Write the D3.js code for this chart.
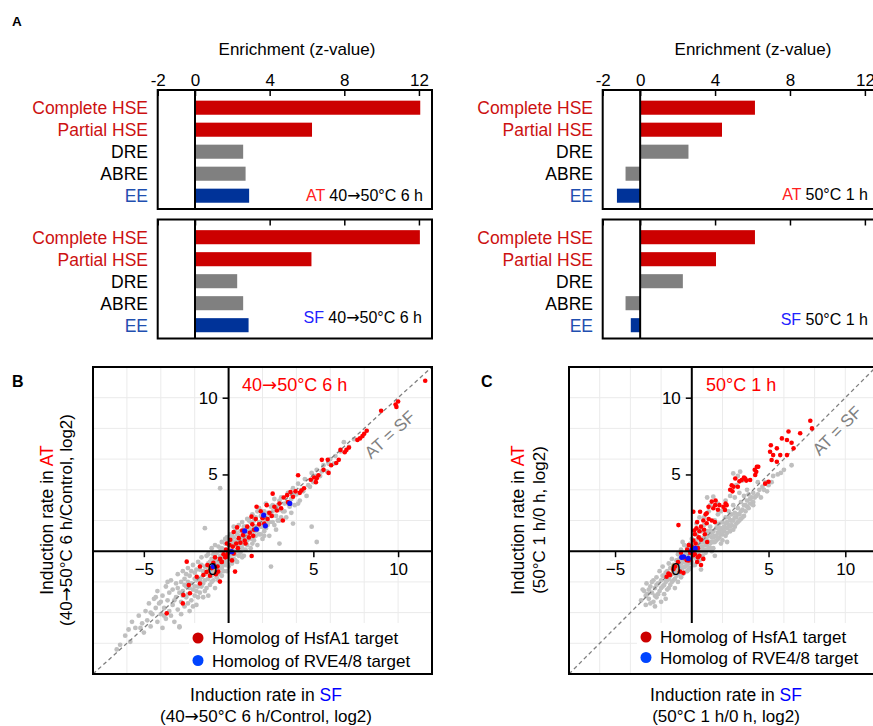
<!DOCTYPE html>
<html>
<head>
<meta charset="utf-8">
<script src="https://cdn.jsdelivr.net/npm/d3@7"></script>
<style>
  body { margin: 0; background: #fff; }
  svg { font-family: "Liberation Sans", Arial, sans-serif; }
</style>
</head>
<body>
<svg id="fig" width="873" height="726"></svg>
<script>
// ---- panel A data (enrichment z-values) ----
const motifs = ['Complete HSE', 'Partial HSE', 'DRE', 'ABRE', 'EE']
const barColors = ['#cc0000', '#cc0000', '#808080', '#808080', '#003399']
const labelColors = ['#cc1111', '#cc1111', '#000000', '#000000', '#1f4fb0']
const zAT6h = [12.07, 6.27, 2.58, 2.71, 2.9]
const zSF6h = [12.05, 6.24, 2.26, 2.58, 2.87]
const zAT1h = [6.13, 4.37, 2.58, -0.78, -1.24]
const zSF1h = [6.13, 4.05, 2.28, -0.78, -0.5]
const zTicks = [-2, 0, 4, 8, 12]
const zDomain = [-2, 12.7]

// ---- panel B/C data: [SF rate, AT rate] ----
const rateDomain = [-8, 12]
const rateTicks = [-5, 5, 10]
const rateYTicks = [5, 10]
const gridValues = [-6, -4, -2, 2, 4, 6, 8, 10]

const grayB = [
  [-6.4,-6.1],[-6.1,-5.5],[-5.8,-5.9],[-5.7,-4.6],[-5.5,-5.0],[-5.3,-4.2],[-5.1,-4.7],[-5.0,-5.3],[-4.9,-3.9],[-4.8,-4.5],
  [-4.7,-3.4],[-4.6,-4.9],[-4.5,-4.1],[-4.4,-3.1],[-4.3,-3.7],[-4.2,-4.6],[-4.2,-2.6],[-4.1,-3.4],[-4.0,-4.1],[-3.9,-2.9],
  [-3.9,-5.0],[-3.8,-3.7],[-3.7,-2.3],[-3.7,-4.4],[-3.6,-3.2],[-3.5,-2.7],[-3.5,-3.9],[-3.4,-1.9],[-3.3,-3.5],[-3.3,-2.5],
  [-3.2,-4.6],[-3.1,-3.0],[-3.1,-2.1],[-3.0,-3.8],[-3.0,-1.5],[-2.9,-2.7],[-2.9,-4.9],[-2.8,-3.3],[-2.8,-2.0],[-2.7,-1.3],
  [-2.7,-2.6],[-2.6,-3.6],[-2.6,-1.8],[-2.5,-2.3],[-2.5,-3.0],[-2.4,-1.1],[-2.4,-2.8],[-2.3,-1.6],[-2.3,-3.9],[-2.2,-2.1],
  [-2.2,-3.2],[-2.1,-0.9],[-2.1,-2.5],[-2.0,-1.4],[-2.0,-2.9],[-1.9,-1.9],[-1.9,-3.5],[-1.8,-0.7],[-1.8,-2.3],[-1.7,-1.2],
  [-1.7,-2.7],[-1.6,-1.7],[-1.6,-0.4],[-1.5,-2.1],[-1.5,-3.0],[-1.4,1.5],[-1.4,-1.0],[-1.4,-1.5],[-1.3,-2.4],[-1.3,-0.3],
  [-1.2,-1.8],[-1.2,-0.8],[-1.1,-1.3],[-1.1,-2.2],[-1.0,-0.5],[-1.0,-1.6],[-1.0,0.2],[-0.9,-1.0],[-0.9,-0.2],[-0.9,-1.9],
  [-0.8,-0.6],[-0.8,-1.4],[-0.8,0.4],[-0.7,-0.9],[-0.7,-0.1],[-0.7,-1.7],[-0.6,-0.5],[-0.6,-1.2],[-0.6,0.3],[-0.5,-0.8],
  [-0.5,0.0],[-0.5,-1.5],[-0.5,4.1],[-0.4,-0.4],[-0.4,-1.1],[-0.4,0.6],[-0.3,-0.7],[-0.3,0.1],[-0.3,-1.3],[-0.2,-0.3],
  [-0.2,0.5],[-0.2,-0.9],[-0.1,0.0],[-0.1,-0.6],[-0.1,0.9],[0.0,-0.2],[0.0,0.4],[0.0,-1.0],[0.1,0.2],[0.1,-0.5],
  [0.1,1.1],[0.2,0.6],[0.2,-0.2],[0.2,-0.8],[0.3,0.0],[0.3,0.9],[0.3,-0.5],[0.4,0.4],[0.4,1.3],[0.4,-0.2],
  [0.5,0.7],[0.5,0.1],[0.5,-0.7],[0.6,1.0],[0.6,0.3],[0.6,1.7],[0.7,0.6],[0.7,-0.1],[0.7,1.3],[0.8,0.9],
  [0.8,0.2],[0.8,1.9],[0.9,0.5],[0.9,1.2],[0.9,-0.3],[1.0,0.8],[1.0,1.6],[1.0,0.1],[1.1,1.1],[1.1,2.1],
  [1.1,0.4],[1.2,0.8],[1.2,1.5],[1.3,1.9],[1.3,0.2],[1.4,1.2],[1.4,2.4],[1.5,0.7],[1.5,1.6],[1.6,1.0],
  [1.6,2.2],[1.7,1.4],[1.7,0.4],[1.8,1.9],[1.8,2.8],[1.9,1.1],[1.9,2.3],[2.0,1.6],[2.0,0.8],[2.1,2.6],
  [2.1,1.3],[2.2,2.0],[2.2,3.1],[2.3,1.7],[2.4,2.4],[2.4,1.0],[2.5,2.9],[2.5,-1.0],[2.6,1.9],[2.6,2.6],
  [2.7,3.4],[2.8,2.3],[2.8,1.4],[2.9,3.0],[3.0,2.0],[3.0,2.7],[3.1,3.5],[3.2,2.6],[3.3,3.1],[3.4,2.2],
  [3.5,3.8],[3.6,2.9],[3.7,3.4],[3.8,1.8],[3.8,4.1],[3.9,3.0],[4.0,3.7],[4.1,4.4],[4.2,3.3],[4.3,4.0],
  [4.5,4.7],[4.6,3.6],[4.7,4.3],[4.9,1.6],[4.9,5.1],[5.0,4.5],[5.2,0.6],[5.2,5.3],[5.4,4.9],[5.6,5.6],
  [5.8,5.2],[6.0,6.0],[6.3,6.2],[6.6,6.5],[6.8,7.1],[7.1,6.8],[7.4,7.3],[3.0,0.5],[-2.9,-4.96],[-1.6,-0.9],
  [-1.2,-0.2],[-0.6,-0.9],[-0.3,-0.2],[0.0,0.1],[0.2,0.3],[0.5,0.4],[0.8,0.5],[1.2,1.2],[1.6,1.6],[-0.9,-1.3],
  [-0.4,0.2],[0.3,0.6],[0.6,-0.3],[1.0,1.3],[1.4,0.8],[-2.0,-1.8],[-1.4,-1.9],[-0.1,-1.3],[0.9,0.9],[1.9,1.8],
  [-3.6,-2.0],[-3.4,-4.2],[-3.2,-3.2],[-3.0,-2.4],[-2.8,-4.1],[-2.7,-2.9],[-2.6,-2.2],[-2.5,-1.5],[-2.4,-3.4],[-2.3,-2.4],
  [-2.2,-1.3],[-2.1,-3.6],[-2.0,-2.3],[-1.9,-1.2],[-1.8,-3.0],[-1.7,-1.9],[-1.6,-2.3],[-1.5,-1.3],[-1.4,-2.6],[-1.3,-1.0],
  [-1.2,-2.9],[-1.1,-0.7],[-1.0,-2.0],[-0.9,-1.5],[-0.8,-0.2],[-0.7,-1.2],[-0.6,-1.9],[-0.5,-0.3],[-0.4,-1.6],[-0.3,-0.9],
  [-0.2,0.8],[-0.1,-0.8],[0.0,0.7],[0.1,-0.2],[0.2,1.0],[0.3,0.4],[0.4,-0.6],[0.5,1.1],[0.6,0.0],[0.7,0.9],
  [0.8,-0.4],[0.9,1.6],[1.0,1.0],[1.1,0.7],[1.2,2.0],[1.3,1.4],[1.4,0.5],[1.5,2.0],[1.6,1.3],[1.7,2.6],
  [1.8,1.1],[1.9,1.6],[2.0,2.4],[2.1,1.0],[2.2,1.5],[2.3,2.5],[2.4,1.9],[2.5,2.3],[2.6,3.0],[2.7,1.7],
  [2.8,2.8],[2.9,2.0],[3.0,3.3],[3.1,2.2],[3.3,2.6],[3.5,3.1],[3.7,2.5],[3.9,3.8],[4.1,3.1],[4.4,3.9],
  [4.8,4.2],[5.1,4.9],[5.5,5.2],[5.9,5.7],[6.2,5.7],[-4.6,-4.0],[-4.3,-3.0],[-4.0,-3.3],[-3.8,-4.2],[-5.2,-5.0],
  [-5.9,-5.1],[-6.6,-6.4],[-1.2,-1.4],[-0.6,-0.7],[0.0,-0.4],[0.5,0.5],[1.1,1.4],[-1.9,-2.6],[-2.4,-2.0],[0.3,1.6],
  [-0.8,-2.4]
]
const redB = [
  [11.6,11.1],[10.0,9.75],[9.85,9.55],[9.9,9.4],[9.0,9.15],[8.15,7.85],[8.0,7.65],[7.9,7.5],[7.75,7.35],[7.6,7.25],
  [7.1,6.75],[6.95,6.6],[6.6,6.6],[6.85,6.45],[6.5,5.95],[5.5,5.95],[5.85,5.95],[6.05,5.6],[6.35,5.75],[5.6,5.3],
  [5.9,5.1],[5.3,4.95],[5.05,4.8],[4.85,4.65],[5.15,4.5],[5.2,4.75],[4.45,4.1],[4.1,4.95],[4.3,3.95],[3.65,3.85],
  [3.95,3.9],[4.2,3.8],[3.25,3.5],[3.45,3.65],[3.8,3.55],[2.6,3.75],[2.85,2.65],[3.2,2.0],[2.25,3.0],[1.65,2.9],
  [1.9,2.6],[1.35,2.25],[1.6,2.1],[2.0,2.15],[2.4,2.5],[2.7,2.9],[3.0,3.1],[2.3,2.1],[1.8,1.75],[1.5,1.4],
  [1.25,1.2],[1.1,1.6],[0.85,1.05],[0.95,0.7],[0.6,0.85],[0.7,0.55],[0.45,0.5],[0.25,0.3],[0.05,0.4],[-0.15,0.1],
  [0.3,-0.15],[0.15,0.0],[0.55,0.2],[1.0,0.5],[1.2,0.9],[1.45,1.0],[2.1,1.8],[2.55,2.3],[3.1,2.8],[3.5,3.2],
  [0.5,1.55],[0.3,1.25],[0.1,0.75],[-0.1,0.5],[0.8,1.35],[1.4,1.75],[-0.3,-0.2],[-0.5,-0.5],[-0.8,-0.4],[-1.0,-1.1],
  [-0.9,-0.75],[-1.25,-0.9],[-0.65,-1.0],[-0.4,-0.7],[-0.2,-0.4],[0.38,-1.33],[1.36,-0.31],[-0.11,-0.36],[-0.41,-0.68],[-2.47,-0.68],
  [-1.69,-1.0],[-1.49,-1.55],[-1.88,-1.66],[-0.61,-1.33],[-0.51,-1.98],[-1.69,-2.1],[-2.28,-2.74],[-2.67,-2.85],[-3.65,-4.05],[-1.3,-1.35],
  [-1.1,-1.6],[-0.75,-1.5],[-2.7,-3.4],[-2.35,-2.2],[-0.05,-0.15],[0.2,-0.6]
]
const blueB = [[0.95,1.32],[2.07,2.35],[1.64,1.43],[2.17,1.65],[3.61,3.11],[0.18,-0.03],[-0.9,-1.0]]

const grayC = [
  [-3.3,-3.2],[-3.1,-2.6],[-3.0,-3.5],[-2.95,-2.1],[-2.9,-2.8],[-2.8,-3.1],[-2.7,-2.3],[-2.6,-2.7],[-2.5,-1.9],[-2.5,-3.3],
  [-2.4,-2.4],[-2.3,-1.7],[-2.3,-3.0],[-2.2,-2.1],[-2.1,-2.6],[-2.1,-1.3],[-2.0,-3.3],[-2.0,-1.9],[-1.9,-2.3],[-1.9,-1.0],
  [-1.8,-2.8],[-1.8,-1.6],[-1.7,-2.0],[-1.7,-3.1],[-1.6,-1.3],[-1.6,-2.5],[-1.5,-0.8],[-1.5,-1.8],[-1.4,-1.1],[-1.4,-2.2],
  [-1.3,-1.5],[-1.3,-0.5],[-1.2,-1.9],[-1.2,-0.9],[-1.1,-1.3],[-1.1,-2.4],[-1.0,-0.6],[-1.0,-1.6],[-0.9,-1.0],[-0.9,-0.2],
  [-0.9,-2.0],[-0.8,-1.3],[-0.8,-0.5],[-0.7,-0.8],[-0.7,-1.7],[-0.7,0.1],[-0.6,-1.1],[-0.6,-0.3],[-0.5,-0.7],[-0.5,-1.4],
  [-0.5,0.4],[-0.4,-0.2],[-0.4,-1.0],[-0.3,-0.5],[-0.3,0.2],[-0.3,-1.3],[-0.2,-0.8],[-0.2,0.0],[-0.1,-0.4],[-0.1,0.5],
  [-0.1,-1.1],[0.0,-0.1],[0.0,0.8],[0.0,-0.7],[0.1,0.3],[0.1,-0.4],[0.2,-0.1],[0.2,0.7],[0.2,-0.9],[0.3,0.2],
  [0.3,1.1],[0.3,-0.5],[0.4,0.5],[0.4,-0.2],[0.5,0.0],[0.5,0.9],[0.5,-0.6],[0.6,0.3],[0.6,1.3],[0.7,0.6],
  [0.7,-0.3],[0.8,0.1],[0.8,0.9],[0.8,1.7],[0.9,0.4],[0.9,-0.1],[1.0,0.7],[1.0,1.3],[1.1,0.2],[1.1,1.0],
  [1.2,0.5],[1.2,1.6],[1.3,0.9],[1.3,0.0],[1.4,1.3],[1.4,0.6],[1.5,1.0],[1.5,2.0],[1.6,0.7],[1.6,1.5],
  [1.7,1.2],[1.7,2.4],[1.8,0.9],[1.8,1.8],[1.9,1.4],[1.9,0.5],[2.0,1.9],[2.0,1.1],[2.1,2.8],[2.1,1.6],
  [2.2,1.0],[2.2,2.2],[2.3,1.5],[2.3,1.9],[2.4,2.6],[2.5,1.3],[2.5,2.0],[2.6,2.4],[2.6,1.7],[2.7,3.0],
  [2.7,2.0],[2.8,1.6],[2.8,2.5],[2.9,2.2],[3.0,1.9],[3.0,2.8],[3.1,2.4],[3.2,3.2],[3.2,2.1],[3.3,2.7],
  [3.4,3.0],[3.4,2.3],[3.5,2.6],[3.6,3.3],[3.6,2.9],[3.7,3.7],[3.8,3.1],[3.9,3.5],[4.0,3.2],[4.0,3.8],
  [4.1,3.5],[4.2,3.6],[1.0,3.5],[1.4,3.55],[1.2,3.0],[0.5,2.2],[0.3,1.8],[2.7,5.07],[3.15,5.18],[3.0,4.9],
  [3.3,4.6],[2.9,4.3],[2.5,3.6],[2.2,3.3],[1.7,3.1],[4.4,4.0],[4.6,4.2],[4.8,4.5],[5.0,4.3],[5.3,4.9],
  [5.6,5.0],[6.0,5.3],[6.5,5.6],[4.3,4.5],[4.9,3.9],[0.6,-1.2],[1.5,-0.3],[-2.4,-3.6],[2.3,0.6],[-1.0,-0.9],
  [-0.6,-0.6],[-0.2,-0.3],[0.1,0.0],[0.4,0.2],[0.7,0.3],[1.0,0.4],[1.3,0.6],[1.6,1.0],[-1.3,-1.1],[-0.4,-0.6],
  [0.2,0.4],[0.9,0.8],[1.2,1.3],[1.8,1.3],[2.4,1.7],[-0.8,-0.8],[-0.1,0.2],[0.6,0.6],[1.4,0.9],[2.0,1.5],
  [-3.2,-2.5],[-3.0,-2.9],[-2.8,-2.5],[-2.7,-3.4],[-2.6,-2.0],[-2.4,-2.9],[-2.3,-2.2],[-2.2,-2.8],[-2.0,-2.4],[-1.9,-1.6],
  [-1.8,-2.2],[-1.7,-1.4],[-1.6,-1.9],[-1.5,-2.4],[-1.4,-1.6],[-1.3,-2.0],[-1.2,-1.3],[-1.1,-1.8],[-1.0,-1.1],[-0.9,-1.5],
  [-0.8,-1.0],[-0.7,-0.4],[-0.6,-1.5],[-0.5,-1.0],[-0.4,-0.5],[-0.3,-0.9],[-0.2,-1.2],[-0.1,-0.7],[0.0,0.4],[0.1,-0.9],
  [0.2,0.1],[0.3,-0.2],[0.4,0.8],[0.5,0.3],[0.6,-0.4],[0.7,0.0],[0.8,0.6],[0.9,1.1],[1.0,0.1],[1.1,0.6],
  [1.2,0.2],[1.3,1.2],[1.4,0.2],[1.5,0.6],[1.6,1.8],[1.7,0.8],[1.8,1.5],[1.9,1.1],[2.0,0.7],[2.1,1.3],
  [2.2,1.8],[2.3,1.2],[2.4,2.2],[2.5,1.6],[2.6,2.0],[2.7,1.4],[2.8,2.2],[2.9,1.8],[3.0,2.4],[3.1,2.0],
  [3.2,2.6],[3.3,2.2],[3.5,3.0],[3.7,2.8],[3.8,3.4],[4.0,3.0],[4.3,3.7],[4.5,3.5],[4.7,4.0],[5.2,4.5],
  [5.8,5.1],[3.4,3.6],[3.6,4.0],[3.1,3.8],[2.8,3.5],[0.8,2.2],[1.1,2.6],[0.4,1.4],[-0.6,0.6],[1.9,2.6]
]
const redC = [
  [7.72,8.5],[7.83,8.0],[7.06,7.68],[6.3,7.8],[5.87,7.35],[6.2,7.24],[6.5,7.07],[6.63,6.7],[5.15,6.9],[5.54,6.7],
  [5.1,6.48],[5.3,6.26],[5.76,6.26],[6.2,6.26],[5.2,5.94],[5.54,5.83],[4.24,5.5],[4.2,5.17],[4.13,4.96],[5.0,4.52],
  [4.78,4.4],[4.33,5.5],[4.1,5.3],[3.8,4.64],[3.25,4.64],[3.4,4.8],[3.55,4.6],[2.83,4.74],[3.1,4.55],[3.48,4.74],
  [2.72,4.2],[2.6,4.3],[2.5,4.0],[3.0,4.2],[2.65,3.9],[2.27,3.0],[2.16,2.68],[1.52,3.0],[1.09,2.89],[1.4,2.8],
  [1.7,2.7],[2.06,2.89],[2.2,3.1],[1.3,3.23],[1.55,3.3],[1.8,3.0],[0.97,2.47],[0.54,2.57],[0.9,2.4],[1.1,2.1],
  [1.3,2.0],[1.5,1.9],[0.97,1.82],[0.1,2.57],[-0.87,1.7],[0.75,2.0],[0.6,1.6],[0.35,1.9],[0.5,1.3],[0.3,1.5],
  [0.8,1.4],[0.2,1.1],[0.45,0.9],[0.1,0.7],[0.6,0.75],[0.25,0.5],[0.0,0.3],[0.4,0.2],[0.15,1.35],[0.85,1.1],
  [1.0,0.6],[-0.3,0.1],[-0.1,-0.1],[0.2,-0.2],[0.5,-0.3],[-0.5,-0.4],[-0.7,-0.1],[-0.2,-0.6],[0.35,-0.7],[0.6,-0.9],
  [-0.9,-0.7],[-1.09,-1.0],[-0.77,-1.33],[-1.42,-1.55],[-1.64,-1.66],[-1.52,-1.46],[-1.2,-1.17],[-0.55,-1.41],[-0.33,-0.59],[0.1,-0.26],
  [0.4,-0.4],[0.75,-0.5],[-0.2,0.4],[0.05,0.0]
]
const blueC = [[-0.66,-0.4],[-0.23,-0.47],[0.0,0.07],[0.22,0.18],[-0.54,-0.36]]

const svg = d3.select('#fig')

// text with a wider arrow glyph
function richText(sel, str) {
  str.split('→').forEach((part, i) => {
    if (i > 0) sel.append('tspan').attr('font-family', '"DejaVu Sans", sans-serif').text('→')
    sel.append('tspan').text(part)
  })
  return sel
}

// ---------- panel A ----------
function barPanel(opt) {
  const x = d3.scaleLinear().domain(zDomain).range([opt.left, opt.right])
  const y = d3.scaleBand().domain(motifs).range([opt.top + 6.7, opt.top + 116.7])
    .paddingInner(0.36).paddingOuter(0.18)
  const g = svg.append('g')
  const h = 119

  g.selectAll('.bar')
    .data(opt.values)
    .enter()
    .append('rect')
    .attr('x', d => x(Math.min(0, d)))
    .attr('y', (d, i) => y(motifs[i]))
    .attr('width', d => Math.abs(x(d) - x(0)))
    .attr('height', y.bandwidth())
    .attr('fill', (d, i) => barColors[i])

  // ticks (inside, from the top border)
  const ax = g.append('g')
    .attr('transform', `translate(0,${opt.top})`)
    .call(d3.axisTop(x).tickValues(zTicks).tickSize(-6).tickPadding(4))
  ax.select('.domain').remove()
  ax.selectAll('line').attr('stroke', '#000').attr('stroke-width', 1.5)
  ax.selectAll('text').attr('font-size', 17).attr('fill', '#000')
    .attr('font-family', '"Liberation Sans", Arial, sans-serif')
    .text(d => opt.tickLabels ? d : '')

  g.append('line')
    .attr('x1', x(0)).attr('x2', x(0))
    .attr('y1', opt.top).attr('y2', opt.top + h)
    .attr('stroke', '#000').attr('stroke-width', 2)

  g.append('rect')
    .attr('x', opt.left).attr('y', opt.top)
    .attr('width', opt.right - opt.left).attr('height', h)
    .attr('fill', 'none').attr('stroke', '#000').attr('stroke-width', 2)

  g.selectAll('.lab')
    .data(motifs)
    .enter()
    .append('text')
    .attr('x', opt.labelX)
    .attr('y', d => y(d) + y.bandwidth() / 2)
    .attr('dy', '0.36em')
    .attr('text-anchor', 'end')
    .attr('font-size', 17.5)
    .attr('fill', (d, i) => labelColors[i])
    .text(d => d)

  const note = g.append('text')
    .attr('x', opt.noteX).attr('y', opt.noteY)
    .attr('text-anchor', 'end').attr('font-size', 16)
  note.append('tspan').attr('fill', opt.noteColor).text(opt.sample + ' ')
  richText(note, opt.cond)

  if (opt.title) {
    g.append('text')
      .attr('x', opt.titleX).attr('y', 55)
      .attr('text-anchor', 'middle').attr('font-size', 17)
      .text('Enrichment (z-value)')
  }
}

barPanel({ left: 157.7, right: 432, top: 90, values: zAT6h, labelX: 148, tickLabels: true, title: true, titleX: 297,
  noteX: 423, noteY: 201, sample: 'AT', noteColor: '#ff2020', cond: '40→50°C 6 h' })
barPanel({ left: 157.7, right: 432, top: 219.5, values: zSF6h, labelX: 148, tickLabels: false,
  noteX: 422, noteY: 323, sample: 'SF', noteColor: '#2222ff', cond: '40→50°C 6 h' })
barPanel({ left: 602.7, right: 878, top: 90, values: zAT1h, labelX: 593, tickLabels: true, title: true, titleX: 753,
  noteX: 868, noteY: 200, sample: 'AT', noteColor: '#ff2020', cond: '50°C 1 h' })
barPanel({ left: 602.7, right: 878, top: 219.5, values: zSF1h, labelX: 593, tickLabels: false,
  noteX: 868, noteY: 325, sample: 'SF', noteColor: '#2222ff', cond: '50°C 1 h' })

// ---------- panels B and C ----------
function scatterPanel(opt) {
  const top = 367, bottom = 674
  const x = d3.scaleLinear().domain(rateDomain).range([opt.left, opt.right])
  const y = d3.scaleLinear().domain(rateDomain).range([bottom, top])
  const g = svg.append('g')

  g.append('clipPath').attr('id', opt.id)
    .append('rect').attr('x', opt.left).attr('y', top)
    .attr('width', opt.right - opt.left).attr('height', bottom - top)
  const plot = g.append('g').attr('clip-path', `url(#${opt.id})`)

  plot.selectAll('.gx').data(gridValues).enter().append('line')
    .attr('x1', d => x(d)).attr('x2', d => x(d)).attr('y1', top).attr('y2', bottom)
    .attr('stroke', '#ebebeb').attr('stroke-width', 1)
  plot.selectAll('.gy').data(gridValues).enter().append('line')
    .attr('y1', d => y(d)).attr('y2', d => y(d)).attr('x1', opt.left).attr('x2', opt.right)
    .attr('stroke', '#ebebeb').attr('stroke-width', 1)

  plot.selectAll('.gp').data(opt.gray).enter().append('circle')
    .attr('cx', d => x(d[0])).attr('cy', d => y(d[1])).attr('r', 2.4).attr('fill', '#bfbfbf')

  plot.append('line')
    .attr('x1', x(rateDomain[0])).attr('y1', y(rateDomain[0]))
    .attr('x2', x(rateDomain[1])).attr('y2', y(rateDomain[1]))
    .attr('stroke', '#7f7f7f').attr('stroke-width', 1.3).attr('stroke-dasharray', '4,3')

  plot.selectAll('.rp').data(opt.red).enter().append('circle')
    .attr('cx', d => x(d[0])).attr('cy', d => y(d[1])).attr('r', 2.3).attr('fill', '#ff0000')
  plot.selectAll('.bp').data(opt.blue).enter().append('circle')
    .attr('cx', d => x(d[0])).attr('cy', d => y(d[1])).attr('r', 2.6).attr('fill', '#1010ff')

  // axes through the origin
  g.append('line').attr('x1', opt.left).attr('x2', opt.right).attr('y1', y(0)).attr('y2', y(0))
    .attr('stroke', '#000').attr('stroke-width', 2)
  g.append('line').attr('x1', x(0)).attr('x2', x(0)).attr('y1', top).attr('y2', bottom)
    .attr('stroke', '#000').attr('stroke-width', 2)

  const xa = g.append('g').attr('transform', `translate(0,${y(0)})`)
    .call(d3.axisBottom(x).tickValues(rateTicks).tickSize(6).tickPadding(6))
  const ya = g.append('g').attr('transform', `translate(${x(0)},0)`)
    .call(d3.axisLeft(y).tickValues(rateYTicks).tickSize(6).tickPadding(5))
  for (const a of [xa, ya]) {
    a.select('.domain').remove()
    a.selectAll('line').attr('stroke', '#000').attr('stroke-width', 1.5)
    a.selectAll('text').attr('font-size', 17).attr('fill', '#000')
      .attr('font-family', '"Liberation Sans", Arial, sans-serif')
  }
  g.append('text').attr('x', x(0) - 16).attr('y', y(0) + 24)
    .attr('text-anchor', 'middle').attr('font-size', 17).text('0')

  // AT = SF label along the diagonal
  const ang = -Math.atan2(y(0) - y(1), x(1) - x(0)) * 180 / Math.PI
  g.append('text')
    .attr('transform', `translate(${x(opt.eqPos[0])},${y(opt.eqPos[1])}) rotate(${ang})`)
    .attr('text-anchor', 'middle').attr('dy', '0.35em')
    .attr('font-size', 17).attr('fill', '#808080')
    .text('AT = SF')

  richText(g.append('text').attr('x', opt.titleX).attr('y', 391)
    .attr('font-size', 18).attr('fill', '#ff0000'), opt.title)

  // legend
  g.append('rect').attr('x', opt.legendX - 9).attr('y', 623)
    .attr('width', opt.right - opt.legendX + 8).attr('height', bottom - 624)
    .attr('fill', '#fff')
  const leg = [['Homolog of HsfA1 target', '#cc0000'], ['Homolog of RVE4/8 target', '#0044ff']]
  g.selectAll('.lg').data(leg).enter().append('circle')
    .attr('cx', opt.legendX).attr('cy', (d, i) => opt.legendY + i * opt.legendStep)
    .attr('r', 5.5).attr('fill', d => d[1])
  g.selectAll('.lt').data(leg).enter().append('text')
    .attr('x', opt.legendX + 14).attr('y', (d, i) => opt.legendY + i * opt.legendStep)
    .attr('dy', '0.36em').attr('font-size', 17).text(d => d[0])

  g.append('rect').attr('x', opt.left).attr('y', top)
    .attr('width', opt.right - opt.left).attr('height', bottom - top)
    .attr('fill', 'none').attr('stroke', '#000').attr('stroke-width', 2)

  // axis titles (rotated: local +y points right on screen)
  const yl = g.append('g').attr('transform', `translate(${opt.yLabX},520) rotate(-90)`)
  const t1 = yl.append('text').attr('text-anchor', 'middle').attr('dy', '0.35em').attr('font-size', 17.5)
  t1.append('tspan').text('Induction rate in ')
  t1.append('tspan').attr('fill', '#ff0000').text('AT')
  richText(yl.append('text').attr('y', opt.yLabX2 - opt.yLabX).attr('text-anchor', 'middle').attr('dy', '0.35em')
    .attr('font-size', 17), opt.sub)

  const xl = g.append('text').attr('x', opt.xLabX).attr('y', 701)
    .attr('text-anchor', 'middle').attr('font-size', 17.5)
  xl.append('tspan').text('Induction rate in ')
  xl.append('tspan').attr('fill', '#0000ff').text('SF')
  richText(g.append('text').attr('x', opt.xLabX).attr('y', 722)
    .attr('text-anchor', 'middle').attr('font-size', 17), opt.sub)
}

scatterPanel({ id: 'clipB', left: 93, right: 432, gray: grayB, red: redB, blue: blueB,
  eqPos: [9.5, 7.6], title: '40→50°C 6 h', titleX: 242,
  legendX: 198, legendY: 638, legendStep: 22.5,
  yLabX: 47, yLabX2: 66, xLabX: 266, sub: '(40→50°C 6 h/Control, log2)' })
scatterPanel({ id: 'clipC', left: 569, right: 876, gray: grayC, red: redC, blue: blueC,
  eqPos: [9.45, 7.85], title: '50°C 1 h', titleX: 706,
  legendX: 646, legendY: 637, legendStep: 20.5,
  yLabX: 518, yLabX2: 539, xLabX: 726, sub: '(50°C 1 h/0 h, log2)' })

// panel letters
svg.append('text').attr('x', 12).attr('y', 26).attr('font-size', 13.5).attr('font-weight', 'bold').text('A')
svg.append('text').attr('x', 12).attr('y', 387).attr('font-size', 16).attr('font-weight', 'bold').text('B')
svg.append('text').attr('x', 481).attr('y', 387).attr('font-size', 16).attr('font-weight', 'bold').text('C')
</script>
</body>
</html>
